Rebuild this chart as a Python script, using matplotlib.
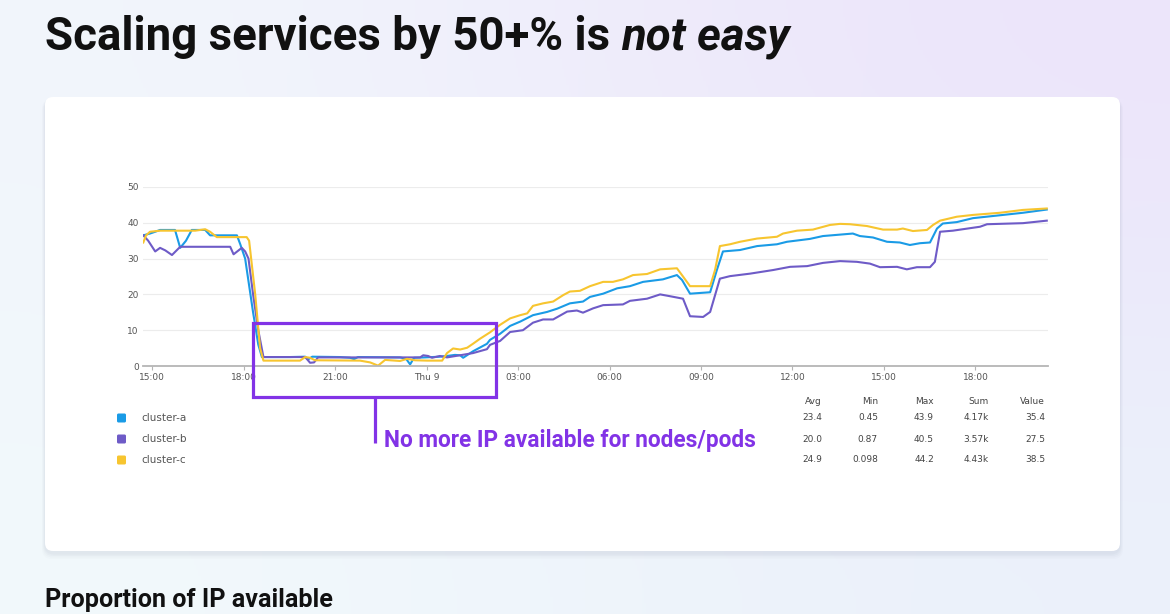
import matplotlib.pyplot as plt
import numpy as np
from matplotlib.patches import FancyBboxPatch, Rectangle

# hours since 15:00 on day 1
hours_a = [-0.29, -0.07, 0.10, 0.26, 0.75, 0.92, 1.11, 1.30, 1.74, 1.90, 2.78, 2.89, 3.05, 3.31, 3.48,
           3.60, 4.52, 5.02, 5.11, 5.25, 6.16, 6.49, 6.62, 6.75, 8.13, 8.33, 8.46, 8.59, 8.95, 9.44,
           9.67, 9.93, 10.10, 10.20, 10.52, 10.98, 11.08, 11.41, 11.74, 12.07, 12.49, 12.95, 13.28,
           13.70, 14.13, 14.36, 14.79, 15.25, 15.67, 16.10, 16.75, 17.21, 17.38, 17.64, 18.30, 18.52,
           18.72, 19.28, 19.84, 20.49, 20.82, 21.57, 22.00, 22.56, 22.98, 23.21, 23.64, 24.10, 24.52,
           24.85, 25.18, 25.51, 25.74, 25.93, 26.39, 26.92, 27.80, 28.56, 29.34]
cluster_a = [36.5, 37.0, 37.5, 38.0, 38.0, 33.0, 35.0, 38.0, 38.0, 36.5, 36.5, 34.0, 30.0, 15.0, 6.0,
             2.5, 2.5, 2.6, 1.8, 2.6, 2.5, 2.3, 1.9, 2.5, 2.4, 2.0, 0.45, 2.3, 2.4, 2.6,
             2.8, 3.1, 3.0, 2.3, 4.1, 6.2, 7.3, 9.0, 11.2, 12.4, 14.2, 15.1, 16.0,
             17.5, 18.0, 19.3, 20.2, 21.7, 22.3, 23.5, 24.2, 25.4, 24.0, 20.2, 20.6, 26.8,
             32.0, 32.4, 33.5, 34.0, 34.7, 35.5, 36.3, 36.7, 37.0, 36.3, 35.9, 34.7, 34.5,
             33.8, 34.3, 34.5, 38.4, 39.8, 40.2, 41.3, 42.1, 42.8, 43.7]

hours_b = [-0.29, -0.13, 0.10, 0.26, 0.43, 0.65, 0.92, 2.56, 2.67, 2.94, 3.05, 3.16, 3.31, 3.48, 3.65,
           5.02, 5.18, 5.31, 5.44, 8.79, 8.89, 9.05, 9.18, 9.44, 9.67, 10.10, 10.52, 10.98, 11.08,
           11.41, 11.74, 12.16, 12.49, 12.82, 13.15, 13.61, 13.93, 14.13, 14.46, 14.79, 15.44, 15.67,
           16.23, 16.66, 16.98, 17.41, 17.64, 18.07, 18.30, 18.62, 18.95, 19.61, 20.36, 20.92, 21.48,
           22.00, 22.56, 23.11, 23.54, 23.87, 24.43, 24.75, 25.08, 25.51, 25.67, 25.84, 26.26, 27.15,
           27.38, 28.56, 29.34]
cluster_b = [36.5, 35.0, 32.0, 33.0, 32.3, 31.0, 33.3, 33.3, 31.2, 33.0, 32.0, 30.0, 20.0, 10.0, 2.5,
             2.5, 0.9, 1.0, 2.4, 2.4, 3.0, 2.8, 2.3, 2.8, 2.4, 3.0, 3.6, 4.7, 5.9,
             7.0, 9.5, 10.0, 12.1, 13.0, 13.0, 15.2, 15.5, 14.9, 16.1, 17.0, 17.2, 18.2,
             18.8, 20.0, 19.5, 18.8, 13.9, 13.7, 15.1, 24.4, 25.1, 25.8, 26.8, 27.7, 27.9,
             28.8, 29.3, 29.1, 28.6, 27.6, 27.7, 27.0, 27.6, 27.6, 29.1, 37.5, 37.8, 38.9,
             39.6, 39.9, 40.6]

hours_c = [-0.29, -0.20, -0.07, 0.26, 1.41, 1.74, 1.90, 2.12, 3.10, 3.18, 3.38, 3.54, 3.65, 4.85, 5.02,
           5.18, 5.34, 6.82, 7.15, 7.41, 7.64, 8.13, 8.36, 8.62, 9.02, 9.51, 9.67, 9.87, 10.10, 10.33,
           10.52, 10.75, 11.08, 11.41, 11.74, 12.07, 12.30, 12.49, 12.82, 13.15, 13.48, 13.70, 14.03,
           14.36, 14.79, 15.11, 15.44, 15.77, 16.23, 16.66, 17.21, 17.41, 17.64, 18.30, 18.46, 18.62,
           18.95, 19.28, 19.84, 20.49, 20.69, 21.15, 21.67, 22.23, 22.56, 22.89, 23.44, 23.97, 24.43,
           24.62, 24.95, 25.41, 25.61, 25.84, 26.39, 26.92, 27.80, 28.56, 29.34]
cluster_c = [34.5, 36.5, 37.5, 37.8, 37.8, 38.2, 37.5, 36.0, 36.0, 35.0, 20.0, 5.0, 1.5, 1.5, 2.5,
             2.3, 1.6, 1.5, 1.0, 0.1, 1.7, 1.4, 2.0, 1.6, 1.5, 1.5, 3.6, 4.9, 4.6, 5.1,
             6.2, 7.6, 9.4, 11.5, 13.3, 14.2, 14.7, 16.8, 17.5, 18.0, 19.8, 20.8, 21.0,
             22.3, 23.5, 23.5, 24.2, 25.4, 25.7, 27.0, 27.3, 25.0, 22.3, 22.3, 26.8, 33.5,
             34.0, 34.7, 35.6, 36.1, 37.0, 37.8, 38.1, 39.4, 39.7, 39.6, 39.1, 38.1, 38.1,
             38.4, 37.7, 38.0, 39.4, 40.6, 41.7, 42.2, 42.8, 43.6, 44.0]

tick_hours = [0, 3, 6, 9, 12, 15, 18, 21, 24, 27]
tick_labels = ['15:00', '18:00', '21:00', 'Thu 9', '03:00', '06:00', '09:00', '12:00', '15:00', '18:00']

series_names = ['cluster-a', 'cluster-b', 'cluster-c']
series_colors = ['#1a9be6', '#6e5bc7', '#f7c52f']
stat_headers = ['Avg', 'Min', 'Max', 'Sum', 'Value']
stat_rows = [['23.4', '0.45', '43.9', '4.17k', '35.4'],
             ['20.0', '0.87', '40.5', '3.57k', '27.5'],
             ['24.9', '0.098', '44.2', '4.43k', '38.5']]

W, H = 1170, 614
fig = plt.figure(figsize=(W / 100, H / 100), dpi=100)

# background with soft gradient
bg = fig.add_axes([0, 0, 1, 1], zorder=0)
bg.set_xlim(0, W)
bg.set_ylim(H, 0)
bg.axis('off')
corners = np.array([[[242, 246, 252], [236, 228, 250]],
                    [[242, 249, 252], [235, 241, 250]]]) / 255.0
bg.imshow(corners, extent=[0, W, H, 0], interpolation='bicubic', aspect='auto')

# card with soft shadow
for i, a in enumerate([0.02, 0.025, 0.03, 0.035]):
    off = 6 - i * 1.5
    bg.add_patch(FancyBboxPatch((45 - off * 0.5, 97 + 2), 1075 + off, 454 + off,
                                boxstyle='round,pad=0,rounding_size=10',
                                fc='#5a6a8a', ec='none', alpha=a))
bg.add_patch(FancyBboxPatch((45, 97), 1075, 454, boxstyle='round,pad=0,rounding_size=8',
                            fc='white', ec='none'))

# chart
ax = fig.add_axes([143 / W, 1 - 366 / H, (1048 - 143) / W, (366 - 187) / H], zorder=2)
ax.patch.set_alpha(0)
for hrs, vals, col in zip([hours_a, hours_b, hours_c], [cluster_a, cluster_b, cluster_c], series_colors):
    ax.plot(hrs, vals, color=col, lw=1.5, solid_joinstyle='round')
ax.set_xlim(-0.3, 29.38)
ax.set_ylim(0, 50)
ax.set_yticks(range(0, 51, 10))
ax.set_xticks(tick_hours)
ax.set_xticklabels(tick_labels)
ax.grid(axis='y', color='#ececec', lw=0.8)
ax.set_axisbelow(True)
for s in ['top', 'right', 'left']:
    ax.spines[s].set_visible(False)
ax.spines['bottom'].set_color('#b5b5b5')
ax.spines['bottom'].set_linewidth(1.3)
ax.tick_params(axis='y', length=0, pad=3, labelsize=6.5, labelcolor='#555555')
ax.tick_params(axis='x', length=3, width=0.8, color='#b5b5b5', pad=2, labelsize=6.5,
               labelcolor='#555555')

# overlay for text, table and annotation
ov = fig.add_axes([0, 0, 1, 1], zorder=3)
ov.set_xlim(0, W)
ov.set_ylim(H, 0)
ov.axis('off')
ov.patch.set_alpha(0)

renderer = fig.canvas.get_renderer()


def fit_width(t, target):
    w = t.get_window_extent(renderer).width
    t.set_fontsize(t.get_fontsize() * target / w)


t1 = ov.text(45, 50, 'Scaling services by 50+% is', fontsize=27, fontweight='bold',
             family='Roboto', color='#111111', va='baseline', ha='left')
t2 = ov.text(0, 50, 'not easy', fontsize=27, fontweight='bold', fontstyle='italic',
             family='Roboto', color='#111111', va='baseline', ha='left')
w1 = t1.get_window_extent(renderer).width
w2 = t2.get_window_extent(renderer).width
gap = 9
scale = (788 - 45 - gap) / (w1 + w2)
t1.set_fontsize(27 * scale)
t2.set_fontsize(27 * scale)
t2.set_x(45 + t1.get_window_extent(renderer).width + gap * scale)

t3 = ov.text(45, 607, 'Proportion of IP available', fontsize=15, fontweight='bold',
             family='Roboto', color='#111111', va='baseline', ha='left')
fit_width(t3, 288)

# annotation box
purple = '#8233e6'
ov.add_patch(Rectangle((253, 323), 243, 74, fill=False, ec=purple, lw=2.3))
ov.plot([375, 375], [397, 443], color=purple, lw=2.3, solid_capstyle='butt')
t4 = ov.text(384, 440, 'No more IP available for nodes/pods', fontsize=14, fontweight='bold',
             family='Roboto', color=purple, va='center', ha='left')
fit_width(t4, 373)

# legend + stats table
col_right = [822, 878, 934, 989, 1045]
for x, h in zip(col_right, stat_headers):
    ov.text(x, 401, h, fontsize=6.5, color='#444444', ha='right', va='center')
row_y = [418, 439, 460]
for y, name, col, row in zip(row_y, series_names, series_colors, stat_rows):
    ov.add_patch(FancyBboxPatch((117, y - 4.5), 9, 9, boxstyle='round,pad=0,rounding_size=1.5',
                                fc=col, ec='none'))
    ov.text(141, y, name, fontsize=7.5, color='#555555', ha='left', va='center')
    for x, v in zip(col_right, row):
        ov.text(x, y, v, fontsize=6.5, color='#444444', ha='right', va='center')

fig.savefig('out.png', dpi=100)
